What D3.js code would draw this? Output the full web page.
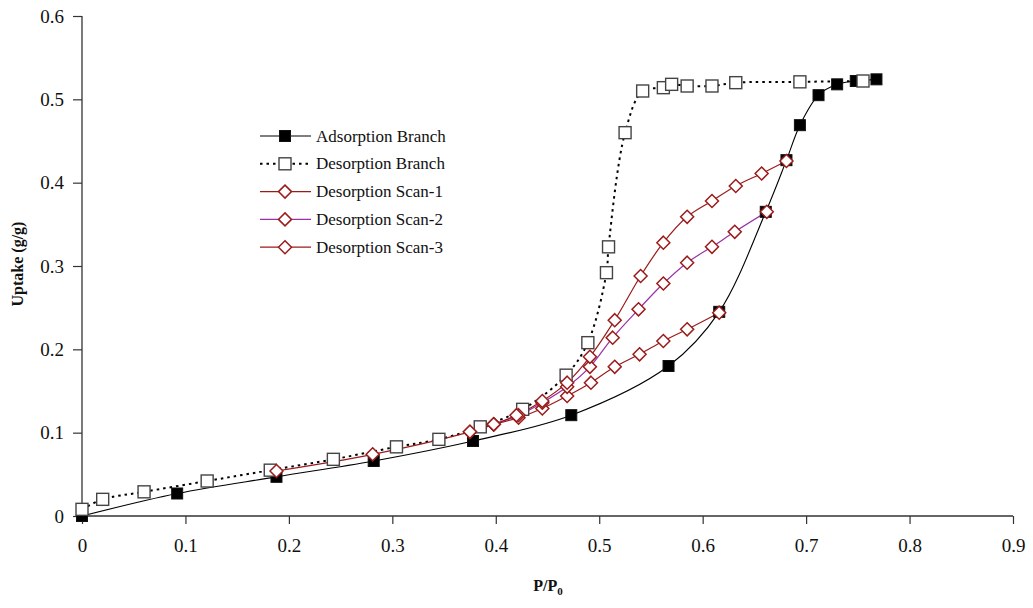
<!DOCTYPE html>
<html><head><meta charset="utf-8">
<script src="https://cdn.jsdelivr.net/npm/d3@7"></script>
<style>body{margin:0;background:#fff}svg{display:block}</style>
</head><body><svg id="c" width="1033" height="608"></svg>
<script>
const xTicks = [0,0.1,0.2,0.3,0.4,0.5,0.6,0.7,0.8,0.9];
const yTicks = [0,0.1,0.2,0.3,0.4,0.5,0.6];
const seriesNames = ["Adsorption Branch","Desorption Branch","Desorption Scan-1","Desorption Scan-2","Desorption Scan-3"];

const adsX = [0,0.092,0.188,0.282,0.378,0.473,0.567,0.616,0.661,0.681,0.694,0.712,0.730,0.748,0.768];
const adsY = [0,0.027,0.047,0.066,0.090,0.121,0.180,0.245,0.365,0.427,0.469,0.505,0.518,0.522,0.524];

const desX = [0.0,0.020,0.060,0.121,0.182,0.243,0.304,0.345,0.385,0.426,0.468,0.489,0.507,0.509,0.525,0.542,0.562,0.570,0.585,0.609,0.632,0.694,0.755];
const desY = [0.008,0.020,0.029,0.042,0.055,0.068,0.083,0.092,0.107,0.128,0.169,0.208,0.292,0.323,0.460,0.510,0.514,0.518,0.516,0.516,0.520,0.521,0.522];

const s1X = [0.188,0.281,0.375,0.398,0.420,0.445,0.469,0.491,0.515,0.540,0.562,0.585,0.609,0.632,0.657,0.681];
const s1Y = [0.054,0.074,0.101,0.110,0.121,0.138,0.160,0.191,0.235,0.288,0.328,0.359,0.378,0.396,0.411,0.426];

const s2X = [0.375,0.398,0.422,0.445,0.469,0.491,0.513,0.538,0.562,0.585,0.609,0.631,0.662];
const s2Y = [0.101,0.110,0.121,0.136,0.155,0.179,0.214,0.248,0.279,0.304,0.323,0.341,0.365];

const s3X = [0.398,0.422,0.445,0.469,0.492,0.515,0.539,0.562,0.585,0.616];
const s3Y = [0.110,0.118,0.129,0.144,0.160,0.179,0.194,0.210,0.224,0.244];

const FONT = "'Liberation Serif','Times New Roman',serif";
const svg = d3.select("#c");
const x = d3.scaleLinear().domain([0,0.9]).range([82,1013]);
const y = d3.scaleLinear().domain([0,0.6]).range([516,16]);

const fmt = d=>String(+d.toFixed(1));
const gx = svg.append("g").attr("transform","translate(0,516)")
  .call(d3.axisBottom(x).tickValues(xTicks).tickSize(8).tickPadding(15).tickFormat(fmt));
const gy = svg.append("g").attr("transform","translate(82,0)")
  .call(d3.axisLeft(y).tickValues(yTicks).tickSize(9).tickPadding(9).tickFormat(fmt));
[gx,gy].forEach(g=>{
  g.attr("font-family",FONT);
  g.selectAll(".domain").attr("stroke","#333").attr("stroke-width",1.3);
  g.selectAll(".tick line").attr("stroke","#333").attr("stroke-width",1.2);
  g.selectAll("text").style("font-family",FONT).attr("font-size",19).attr("fill","#111");
});
gy.selectAll(".domain").attr("d","M0,16V516");
gx.selectAll(".domain").attr("d","M82,0H1013");

svg.append("text").attr("transform","translate(23,264) rotate(-90)").attr("text-anchor","middle")
  .style("font-family",FONT).attr("font-weight","bold").attr("font-size",16).attr("fill","#111").text("Uptake (g/g)");
const xt = svg.append("text").attr("x",548).attr("y",591).attr("text-anchor","middle")
  .style("font-family",FONT).attr("font-weight","bold").attr("font-size",16).attr("fill","#111");
xt.append("tspan").text("P/P");
xt.append("tspan").attr("font-size",11).attr("dy",4).text("0");

const zip = (a,b)=>a.map((v,i)=>[v,b[i]]);
const line = d3.line().x(d=>x(d[0])).y(d=>y(d[1])).curve(d3.curveCatmullRom.alpha(0.5));

const dred = "#9b1b1b", purple = "#9a2fa8";
const series = [
  {name:seriesNames[0], pts:zip(adsX,adsY), color:"#000", width:1.1, dash:null, marker:"sqf"},
  {name:seriesNames[1], pts:zip(desX,desY), color:"#000", width:2, dash:"2.5,4", marker:"sqo"},
  {name:seriesNames[2], pts:zip(s1X,s1Y), color:dred, width:1.2, dash:null, marker:"dia"},
  {name:seriesNames[3], pts:zip(s2X,s2Y), color:purple, width:1.2, dash:null, marker:"dia"},
  {name:seriesNames[4], pts:zip(s3X,s3Y), color:dred, width:1.2, dash:null, marker:"dia"}
];

function drawMarker(g, type, cx, cy){
  if(type==="sqf"){
    g.append("rect").attr("x",cx-5.5).attr("y",cy-5.5).attr("width",11).attr("height",11).attr("fill","#000").attr("stroke","#111").attr("stroke-width",1);
  } else if(type==="sqo"){
    g.append("rect").attr("x",cx-6).attr("y",cy-6).attr("width",12).attr("height",12).attr("fill","#fff").attr("stroke","#444").attr("stroke-width",1.4);
  } else {
    const r=6.5;
    g.append("path").attr("d",`M${cx},${cy-r}L${cx+r},${cy}L${cx},${cy+r}L${cx-r},${cy}Z`).attr("fill","#fff").attr("stroke",dred).attr("stroke-width",1.5);
  }
}

const drawOrder = [0,1,4,3,2];
drawOrder.forEach(i=>{
  const s=series[i];
  svg.append("path").attr("d",line(s.pts)).attr("fill","none").attr("stroke",s.color)
    .attr("stroke-width",s.width).attr("stroke-dasharray",s.dash);
});
drawOrder.forEach(i=>{
  const s=series[i];
  const g=svg.append("g");
  s.pts.forEach(p=>drawMarker(g,s.marker,x(p[0]),y(p[1])));
});

const lg = svg.append("g");
series.forEach((s,i)=>{
  const yy = 136 + i*27.8;
  lg.append("line").attr("x1",260).attr("x2",311).attr("y1",yy).attr("y2",yy).attr("stroke",s.color)
    .attr("stroke-width",s.width).attr("stroke-dasharray",s.dash);
  drawMarker(lg,s.marker,285,yy);
  lg.append("text").attr("x",316).attr("y",yy+5.5).style("font-family",FONT).attr("font-size",17).attr("fill","#111").text(s.name);
});
</script></body></html>
